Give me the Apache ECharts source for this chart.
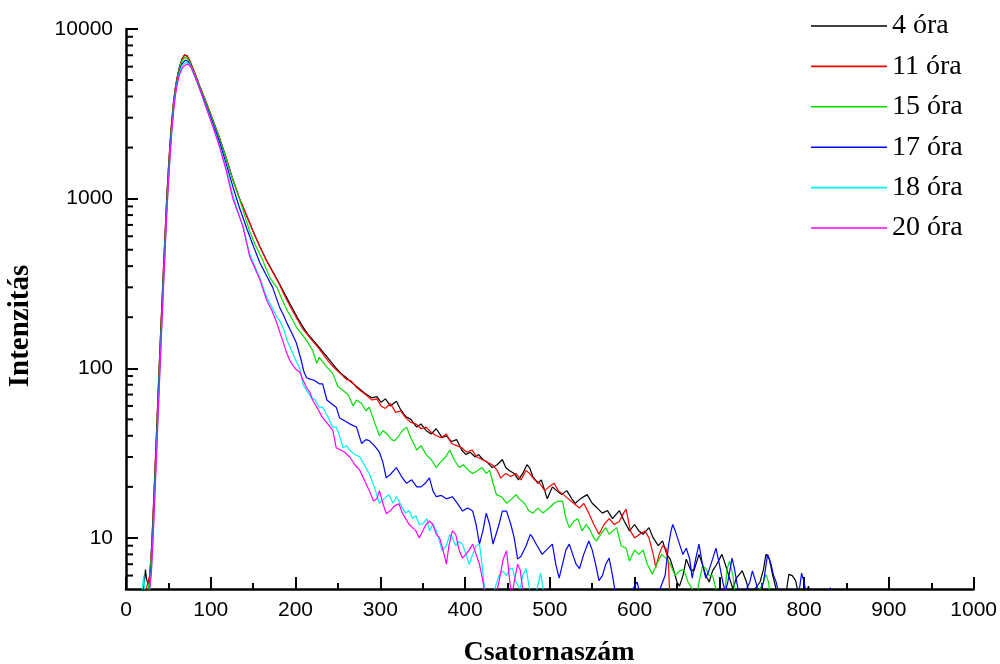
<!DOCTYPE html>
<html>
<head>
<meta charset="utf-8">
<script src="https://cdn.jsdelivr.net/npm/echarts@6/dist/echarts.min.js"></script>
<style>
html,body{margin:0;padding:0;background:#fff;}
#chart{width:1000px;height:664px;}
</style>
</head>
<body>
<div id="chart"></div>
<script>
const seriesNames = ['4 óra', '11 óra', '15 óra', '17 óra', '18 óra', '20 óra'];
const seriesColors = ['#000000', '#ff0000', '#00e000', '#0000ff', '#00f0f0', '#ff00ff'];
const yMajorTicks = [10, 100, 1000, 10000];
const yMinorTicks = [6, 7, 8, 9, 20, 30, 40, 50, 60, 70, 80, 90, 200, 300, 400, 500, 600, 700, 800, 900, 2000, 3000, 4000, 5000, 6000, 7000, 8000, 9000];

const ora4 = [[18,4],[20,4.5],[22,5.8],[23,6.5],[24,5.8],[26,5.3],[28,6],[30,8.5],[32,14],[34,24],[36,42],[38,75],[40,130],[42,220],[44,370],[46,610],[48,1000],[50,1500],[52,2150],[54,2900],[56,3700],[58,4450],[60,5100],[63,5950],[66,6650],[69,7050],[72,6950],[75,6550],[80,5700],[87,4600],[95,3650],[102,2950],[110,2300],[118,1750],[126,1300],[134,1000],[142,800],[150,640],[158,520],[166,430],[174,365],[181,315],[188,270],[195,232],[202,200],[208,178],[214,160],[220,148],[228,133],[234,122],[240,112],[248,100],[254,93],[260,88],[268,81],[275,76],[282,71],[290,67],[296,68],[301,63],[306,66],[312,60],[319,64],[324,57],[330,52],[336,50],[343,45],[348,47],[354,43],[360,41],[366,44],[373,39],[378,40],[384,37],[390,38],[396,33],[401,31],[406,32],[412,30],[416,31],[421,29],[426,28],[432,26],[438,27],[444,29],[448,26],[452,25],[458,24],[463,22],[468,24],[473,27],[476,26],[480,23],[486,21],[490,22],[494,19],[497,17],[503,20],[508,19],[514,18],[520,19],[526,17],[530,16],[536,17],[544,18],[550,16],[556,15],[562,14],[568,14.5],[574,13],[582,14.5],[588,12.5],[594,11],[600,12],[605,11],[610,10.5],[617,11.5],[622,10],[628,9],[633,9.6],[638,8],[642,7.5],[646,6.5],[650,5.5],[653,5.2],[657,6],[661,7.5],[666,6.5],[670,6.4],[676,8],[680,7],[684,6],[688,5.5],[692,6.4],[697,7],[703,8],[707,7],[712,5.8],[716,5],[720,5.8],[727,6.4],[732,5.5],[736,4.5],[742,5],[748,5.5],[752,6.5],[755,8],[759,7.5],[763,6],[767,5],[772,4],[778,4.5],[782,6.1],[786,6],[790,5.6],[794,4.5],[800,4],[805,5.2],[809,4.5],[812,4]];

const ora11 = [[20,4],[22,4.5],[24,5],[26,5.5],[28,6],[30,8.3],[32,13.5],[34,23.5],[36,41],[38,73],[40,127],[42,215],[44,360],[46,600],[48,980],[50,1470],[52,2100],[54,2850],[56,3650],[58,4400],[60,5050],[63,5900],[66,6600],[69,7000],[72,6920],[75,6520],[80,5700],[87,4600],[95,3650],[102,2950],[110,2300],[118,1750],[126,1300],[134,1000],[142,800],[150,640],[158,520],[166,428],[174,362],[181,312],[188,262],[195,225],[202,195],[208,172],[214,158],[220,145],[228,130],[234,118],[240,108],[248,98],[254,92],[260,86],[266,84],[272,77],[278,73],[284,69],[290,65],[296,66],[301,60],[306,58],[312,62],[318,55],[324,56],[330,51],[336,48],[342,47],[348,44],[354,45],[360,42],[366,40],[372,39],[378,41],[384,36],[390,35],[396,34],[402,32],[408,33],[414,30],[420,29],[426,28],[432,27],[438,25],[442,22.5],[448,24],[454,23],[460,24],[466,22],[472,25],[476,24],[482,22],[488,21],[494,19],[499,20],[505,21],[510,19],[516,18],[522,17],[528,16],[535,15],[540,16],[546,14],[552,12],[558,10.5],[564,12],[570,13],[576,12],[582,12.5],[587,14],[590,14.8],[595,11],[600,10],[606,10.5],[612,11],[617,10],[622,8],[625,6.7],[629,8],[633,9],[637,8.7],[640,7],[642,4]];

const ora15 = [[20,4],[24,4.5],[26,5],[28,5.6],[30,7.8],[32,12.5],[34,22],[36,38],[38,68],[40,118],[42,200],[44,340],[46,560],[48,930],[50,1400],[52,2000],[54,2750],[56,3550],[58,4300],[60,4950],[63,5800],[66,6450],[69,6780],[72,6750],[75,6380],[80,5600],[87,4550],[95,3600],[102,2920],[110,2280],[118,1730],[126,1290],[134,990],[142,740],[146,640],[152,540],[161,436],[170,340],[178,300],[184,255],[190,220],[196,195],[201,175],[207,160],[213,146],[220,128],[225,107],[228,116],[236,103],[244,93],[250,78],[256,74],[262,70],[268,60],[272,65],[278,62],[283,56],[287,59],[292,50],[299,40],[303,43],[308,41],[313,38],[317,37.5],[322,40],[326,43],[331,45],[336,39],[343,33],[348,35],[354,31],[360,29],[366,26],[371,28],[377,30],[382,33],[387,29],[393,26],[398,27],[404,25],[409,24],[415,25],[420,26],[425,24],[429,25],[433,21],[437,18],[443,17.5],[449,16],[455,17],[460,18],[464,17],[470,16],[475,14.5],[480,14],[486,15],[492,14],[499,15],[505,16],[510,16.5],[515,16.5],[519,13],[523,11.5],[528,12.5],[533,13],[538,11],[543,12],[548,11],[552,10],[555,9.6],[560,10.5],[566,11.5],[570,10.5],[574,11],[579,11.5],[584,9],[590,8.7],[594,7.3],[600,8.5],[605,8],[610,8.5],[615,7],[621,6.1],[626,7],[632,8],[637,7.6],[642,7],[648,6],[653,6.4],[658,6.5],[663,5.5],[668,5],[672,4],[676,5.5],[680,6.8],[684,6.6],[688,6],[692,6],[696,5],[700,4],[706,4.5],[709,6.5],[712,7.3],[716,6],[720,4],[740,4],[748,5],[752,5.5],[755,6.1],[758,5.5],[761,4]];

const ora17 = [[20,4],[24,4],[26,4.5],[28,5.2],[30,7],[32,11.5],[34,20],[36,35],[38,62],[40,108],[42,185],[44,315],[46,520],[48,870],[50,1320],[52,1900],[54,2620],[56,3400],[58,4150],[60,4800],[63,5600],[66,6220],[70,6560],[73,6450],[76,6120],[80,5450],[87,4450],[95,3500],[102,2820],[110,2180],[118,1620],[126,1180],[134,880],[143,656],[150,530],[158,418],[166,350],[173,300],[181,230],[186,205],[190,184],[196,160],[201,141],[206,115],[210,95],[213,88],[218,86],[222,85],[228,81],[232,81],[237,65],[242,62],[248,59],[252,51],[258,49],[264,47],[268,46],[272,45],[278,36],[283,38],[287,37.5],[293,35],[299,32],[303,28],[307,22.6],[313,24],[319,26],[325,23],[331,21],[337,22],[343,20],[348,20],[353,21],[358,22.6],[362,19],[366,17.5],[372,17.8],[378,17],[385,17.5],[391,16],[397,14.4],[403,15],[409,14.4],[413,12],[417,9.2],[421,11],[425,14],[429,12],[433,9.2],[440,12],[444,14.4],[449,14.4],[454,12],[458,10],[462,7.5],[466,7.8],[472,9],[477,10.5],[480,10],[485,9],[491,8],[496,8.5],[503,9.2],[507,7],[511,5.8],[515,7],[519,8.5],[523,9.2],[527,8],[531,7],[535,6.6],[540,8],[546,9.6],[550,8.5],[554,7],[558,5.6],[562,6],[566,7],[570,7.6],[574,6],[578,4.5],[582,4],[588,4],[594,4.5],[598,5],[603,5.5],[607,4.5],[612,4],[618,4],[624,4.5],[630,5],[636,6],[640,9],[643,11],[645,12],[648,11],[653,9.2],[657,8],[661,8.7],[665,7.5],[668,5.8],[672,7.5],[676,9.2],[680,7],[684,5.8],[688,6.5],[692,7.5],[696,8.7],[700,7],[704,5.5],[707,4.8],[710,5.5],[715,7.6],[718,6.5],[722,5],[726,4.5],[732,5],[736,5.5],[739,6.4],[743,5.5],[747,4.5],[752,5.5],[757,8],[761,7],[764,6],[767,5.5],[771,4.5],[778,4],[790,4],[795,5.2],[797,6.2],[800,5.5],[803,4.5],[808,4],[811,5],[813,5.1],[816,4],[828,4],[831,5.1],[834,4]];

const ora18 = [[18,4],[20,5.5],[21,6],[22,5],[24,4.5],[26,4.6],[28,5],[30,6.5],[32,10.5],[34,18],[36,32],[38,57],[40,100],[42,172],[44,295],[46,490],[48,820],[50,1250],[52,1820],[54,2520],[56,3300],[58,4050],[60,4700],[63,5500],[66,6080],[71,6360],[74,6250],[77,5950],[81,5300],[87,4380],[95,3420],[102,2740],[110,2080],[118,1520],[126,1050],[132,840],[138,690],[146,470],[152,400],[158,340],[166,262],[172,230],[178,200],[181,192],[186,170],[190,146],[195,128],[200,112],[205,100],[209,80],[213,74],[218,68],[223,65],[228,59],[232,59],[238,52],[244,45],[248,45],[252,40],[256,34],[260,35],[264,33],[270,31],[276,30],[281,27],[287,24],[293,20],[299,16],[304,17],[310,18],[315,16],[319,17.5],[322,16.5],[326,15],[330,14],[334,14.5],[338,13],[342,13.5],[346,12],[350,12.1],[355,13],[358,11],[362,12.1],[366,11],[370,9.5],[373,8.4],[378,9],[382,10.5],[385,10],[389,9],[393,9.5],[397,9.2],[401,8],[405,7],[409,8],[413,9],[417,9.2],[420,7],[423,5],[426,4.2],[430,4.5],[435,5],[440,6],[444,6.4],[449,6],[453,6.6],[456,6.6],[460,5.5],[465,5],[468,6],[472,6.6],[476,5],[480,4],[485,5],[489,6.2],[491,5.5],[494,4],[500,4]];

const ora20 = [[20,4],[24,4],[26,4.5],[28,5],[30,6.3],[32,10],[34,17],[36,30],[38,54],[40,95],[42,165],[44,285],[46,470],[48,790],[50,1210],[52,1770],[54,2460],[56,3230],[58,3970],[60,4600],[63,5400],[67,5980],[72,6210],[75,6100],[78,5800],[82,5200],[88,4300],[95,3380],[102,2700],[110,2050],[118,1480],[126,1000],[132,830],[138,682],[146,454],[152,390],[158,332],[166,252],[172,220],[178,185],[182,160],[185,145],[189,125],[193,112],[197,104],[201,98],[205,95],[209,85],[213,77],[217,72],[220,65],[226,58],[232,51],[238,47],[244,43],[248,34],[253,33],[258,32],[264,30],[270,27],[276,25],[281,22],[287,19],[292,16.5],[296,17],[299,19],[303,16],[307,13.9],[312,14.5],[317,15.5],[322,15.9],[326,14],[330,13],[334,12],[338,11.5],[342,11],[346,10],[350,11],[354,12],[358,12.6],[362,12],[366,10.5],[370,10],[374,8.5],[378,7],[381,9],[385,11],[389,10.5],[393,8.5],[397,7.6],[401,8],[405,8.5],[409,9.2],[413,8],[417,7],[421,5.6],[425,4.2],[430,4],[436,4.5],[440,5.5],[445,7.5],[449,8.4],[452,6],[455,4.5],[458,5.5],[462,7],[465,6.5],[468,5],[471,4],[480,4],[488,4],[495,5],[498,4],[502,4]];

const seriesData = [ora4, ora11, ora15, ora17, ora18, ora20];

const chart = echarts.init(document.getElementById('chart'), null, {renderer: 'canvas'});

const lineSeries = seriesNames.map((name, i) => ({
  name: name,
  type: 'line',
  data: seriesData[i],
  symbol: 'none',
  showSymbol: false,
  clip: true,
  lineStyle: {color: seriesColors[i], width: 1.2},
  itemStyle: {color: seriesColors[i]},
  z: 2
}));

const minorTickSeries = {
  type: 'custom',
  name: 'yMinorTicks',
  silent: true,
  z: 5,
  clip: false,
  data: yMinorTicks.map(v => [0, v]),
  renderItem: function (params, api) {
    const p = api.coord([0, api.value(1)]);
    return {
      type: 'line',
      shape: {x1: p[0], y1: p[1], x2: p[0] + 7, y2: p[1]},
      style: {stroke: '#000', lineWidth: 2}
    };
  }
};

const option = {
  animation: false,
  backgroundColor: '#ffffff',
  grid: {left: 126, top: 29, right: 25, bottom: 75, containLabel: false},
  legend: {
    orient: 'vertical',
    left: 811,
    top: 11,
    padding: 0,
    icon: 'rect',
    itemWidth: 76,
    itemHeight: 1.6,
    itemGap: 10.4,
    data: seriesNames,
    textStyle: {fontFamily: '"Liberation Serif", "Times New Roman", serif', fontSize: 28, lineHeight: 30, color: '#000'}
  },
  xAxis: {
    type: 'value',
    min: 0,
    max: 1000,
    interval: 100,
    axisLine: {show: true, onZero: false, lineStyle: {color: '#000', width: 2.5}},
    axisTick: {show: true, inside: true, length: 12, lineStyle: {color: '#000', width: 2}},
    minorTick: {show: true, splitNumber: 2, length: 6, lineStyle: {color: '#000', width: 2}},
    splitLine: {show: false},
    axisLabel: {
      margin: 11,
      fontFamily: '"Liberation Sans", Arial, sans-serif',
      fontSize: 21,
      color: '#000',
      formatter: function (v) { return String(v); }
    }
  },
  yAxis: {
    type: 'log',
    logBase: 10,
    min: 5,
    max: 10000,
    axisLine: {show: true, onZero: false, lineStyle: {color: '#000', width: 2.5}},
    axisTick: {show: true, inside: true, length: 12, lineStyle: {color: '#000', width: 2}},
    splitLine: {show: false},
    axisLabel: {
      margin: 13,
      fontFamily: '"Liberation Sans", Arial, sans-serif',
      fontSize: 21,
      color: '#000',
      showMinLabel: false,
      formatter: function (v) {
        for (const t of yMajorTicks) {
          if (Math.abs(v - t) / t < 1e-6) return String(t);
        }
        return '';
      }
    }
  },
  graphic: [
    {
      type: 'text',
      x: 549, y: 653,
      style: {text: 'Csatornaszám', font: 'bold 28px "Liberation Serif", "Times New Roman", serif', fill: '#000', textAlign: 'center', textVerticalAlign: 'middle'}
    },
    {
      type: 'text',
      x: 21, y: 326,
      rotation: Math.PI / 2,
      style: {text: 'Intenzitás', font: 'bold 29px "Liberation Serif", "Times New Roman", serif', fill: '#000', textAlign: 'center', textVerticalAlign: 'middle'}
    }
  ],
  series: lineSeries.concat([minorTickSeries])
};

chart.setOption(option);
</script>
</body>
</html>
